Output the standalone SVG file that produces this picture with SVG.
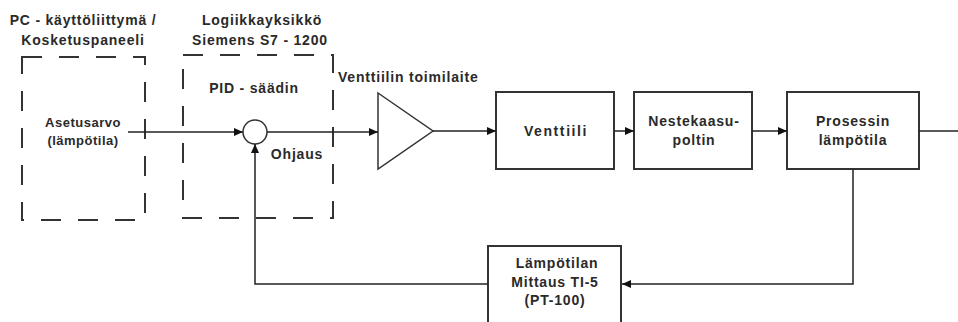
<svg xmlns="http://www.w3.org/2000/svg" width="958" height="322" viewBox="0 0 958 322">
<defs>
<marker id="arr" markerWidth="10" markerHeight="8" refX="9" refY="4" orient="auto" markerUnits="userSpaceOnUse">
<path d="M0,0 L9,4 L0,8 Z" fill="#111"/>
</marker>
<style>
text{font-family:"Liberation Sans",Arial,sans-serif;font-weight:bold;font-size:14px;fill:#2a2a2a;letter-spacing:0.8px;text-anchor:middle;}
.sm{font-size:13px;letter-spacing:0.5px;}
.dash{fill:none;stroke:#333;stroke-width:2;stroke-dasharray:20 17;}
.box{fill:#fff;stroke:#333;stroke-width:2;}
.ln{fill:none;stroke:#222;stroke-width:1.5;}
</style>
</defs>
<rect width="958" height="322" fill="#fff"/>
<g id="pc">
<rect class="dash" x="22" y="57" width="123" height="163"/>
<text x="83" y="25">PC - käyttöliittymä /</text>
<text x="83" y="45">Kosketuspaneeli</text>
<text class="sm" x="83" y="127">Asetusarvo</text>
<text class="sm" x="83" y="145">(lämpötila)</text>
</g>
<g id="plc">
<rect class="dash" x="183" y="55" width="150" height="163"/>
<text x="262" y="25">Logiikkayksikkö</text>
<text x="260" y="45">Siemens S7 - 1200</text>
<text x="254" y="93">PID - säädin</text>
<text x="297" y="159">Ohjaus</text>
</g>
<g id="sum">
<circle cx="255" cy="132" r="12" fill="#fff" stroke="#333" stroke-width="1.5"/>
</g>
<g id="actuator">
<path d="M378,93 L433,131 L378,169 Z" fill="#fff" stroke="#333" stroke-width="1.5"/>
<text x="338" y="82" style="text-anchor:start">Venttiilin toimilaite</text>
</g>
<g id="valve">
<rect class="box" x="496" y="92" width="118" height="77"/>
<text x="556" y="136" style="letter-spacing:1.6px">Venttiili</text>
</g>
<g id="burner">
<rect class="box" x="634" y="92" width="118" height="77"/>
<text x="694" y="126">Nestekaasu-</text>
<text x="694" y="145">poltin</text>
</g>
<g id="process">
<rect class="box" x="787" y="92" width="132" height="77"/>
<text x="853" y="126">Prosessin</text>
<text x="853" y="145">lämpötila</text>
</g>
<g id="sensor">
<rect class="box" x="488" y="246" width="133" height="90"/>
<text x="557" y="268">Lämpötilan</text>
<text x="555" y="287">Mittaus TI-5</text>
<text x="555" y="305">(PT-100)</text>
</g>
<g id="connectors">
<line class="ln" x1="128" y1="132" x2="243" y2="132" marker-end="url(#arr)"/>
<line class="ln" x1="267" y1="132" x2="378" y2="132" marker-end="url(#arr)"/>
<line class="ln" x1="433" y1="131" x2="496" y2="131" marker-end="url(#arr)"/>
<line class="ln" x1="614" y1="131" x2="634" y2="131" marker-end="url(#arr)"/>
<line class="ln" x1="752" y1="131" x2="787" y2="131" marker-end="url(#arr)"/>
<line class="ln" x1="919" y1="131" x2="958" y2="131"/>
<polyline class="ln" points="853,169 853,284 622,284" marker-end="url(#arr)"/>
<polyline class="ln" points="488,284 255,284 255,144" marker-end="url(#arr)"/>
</g>
</svg>
